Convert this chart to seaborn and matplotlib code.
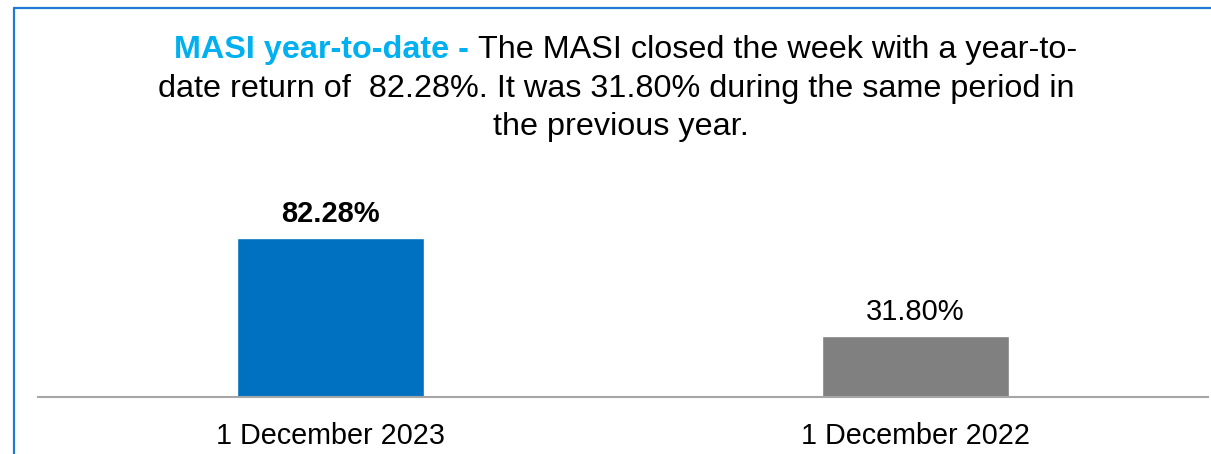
import matplotlib
matplotlib.use("Agg")
import matplotlib.pyplot as plt
from matplotlib.lines import Line2D
import seaborn as sns

categories = ["1 December 2023", "1 December 2022"]
values = [82.28, 31.80]
value_labels = ["82.28%", "31.80%"]
bar_colors = ["#0070C0", "#808080"]

title_lines = [
    ("MASI year-to-date - ", "The MASI closed the week with a year-to-"),
    ("", "date return of  82.28%. It was 31.80% during the same period in"),
    ("", "the previous year."),
]

sns.set_theme(style="white")
plt.rcParams["font.family"] = ["Liberation Sans", "DejaVu Sans"]

W, H = 1211, 454
fig = plt.figure(figsize=(W / 100, H / 100), dpi=100)
fig.patch.set_facecolor("white")

ax_left, ax_right, ax_bottom, ax_top = 38, 1208, 397, 180
ax = fig.add_axes([ax_left / W, 1 - ax_bottom / H, (ax_right - ax_left) / W, (ax_bottom - ax_top) / H])

sns.barplot(x=categories, y=values, hue=categories, palette=bar_colors,
            width=0.318, legend=False, ax=ax, saturation=1)

px_per_unit = (397 - 238) / 82.28
ax.set_ylim(0, (ax_bottom - ax_top) / px_per_unit)
ax.set_xlim(-0.5, 1.5)
ax.set_yticks([])
ax.set_xlabel("")
ax.set_ylabel("")
for s in ["top", "right", "left"]:
    ax.spines[s].set_visible(False)
ax.spines["bottom"].set_color("#A6A6A6")
ax.spines["bottom"].set_linewidth(1.5)
ax.tick_params(axis="x", length=0, pad=18, labelsize=20.7, colors="black")
ax.set_facecolor("white")

texts = ax.bar_label(ax.containers[0], labels=[value_labels[0]], padding=7, fontsize=21, color="black")
texts[0].set_fontweight("bold")
texts2 = ax.bar_label(ax.containers[1], labels=[value_labels[1]], padding=7, fontsize=21, color="black")

# Title with mixed styling
fig.canvas.draw()
renderer = fig.canvas.get_renderer()
title_size = 23.3
centers = [626, 616, 621]
baselines = [58, 97, 135]
for (hl, rest), by, cx in zip(title_lines, baselines, centers):
    y = 1 - by / H
    parts = []
    if hl:
        parts.append((hl, "#00B0F0", "bold"))
    parts.append((rest, "black", "normal"))
    widths = []
    tobjs = []
    for txt, col, wt in parts:
        t = fig.text(0, y, txt, color=col, fontweight=wt, fontsize=title_size,
                     ha="left", va="baseline")
        widths.append(t.get_window_extent(renderer).width)
        tobjs.append(t)
    total = sum(widths)
    x0 = cx - total / 2
    for t, w in zip(tobjs, widths):
        t.set_x(x0 / W)
        x0 += w

# Blue frame (top and left edges)
frame_col = "#1F7AD6"
fig.add_artist(Line2D([14 / W, 14 / W], [0, 1 - 8 / H], transform=fig.transFigure,
                      color=frame_col, linewidth=1.6))
fig.add_artist(Line2D([14 / W, 1], [1 - 8 / H, 1 - 8 / H], transform=fig.transFigure,
                      color=frame_col, linewidth=1.6))

fig.savefig("out.png", dpi=100, facecolor="white")
